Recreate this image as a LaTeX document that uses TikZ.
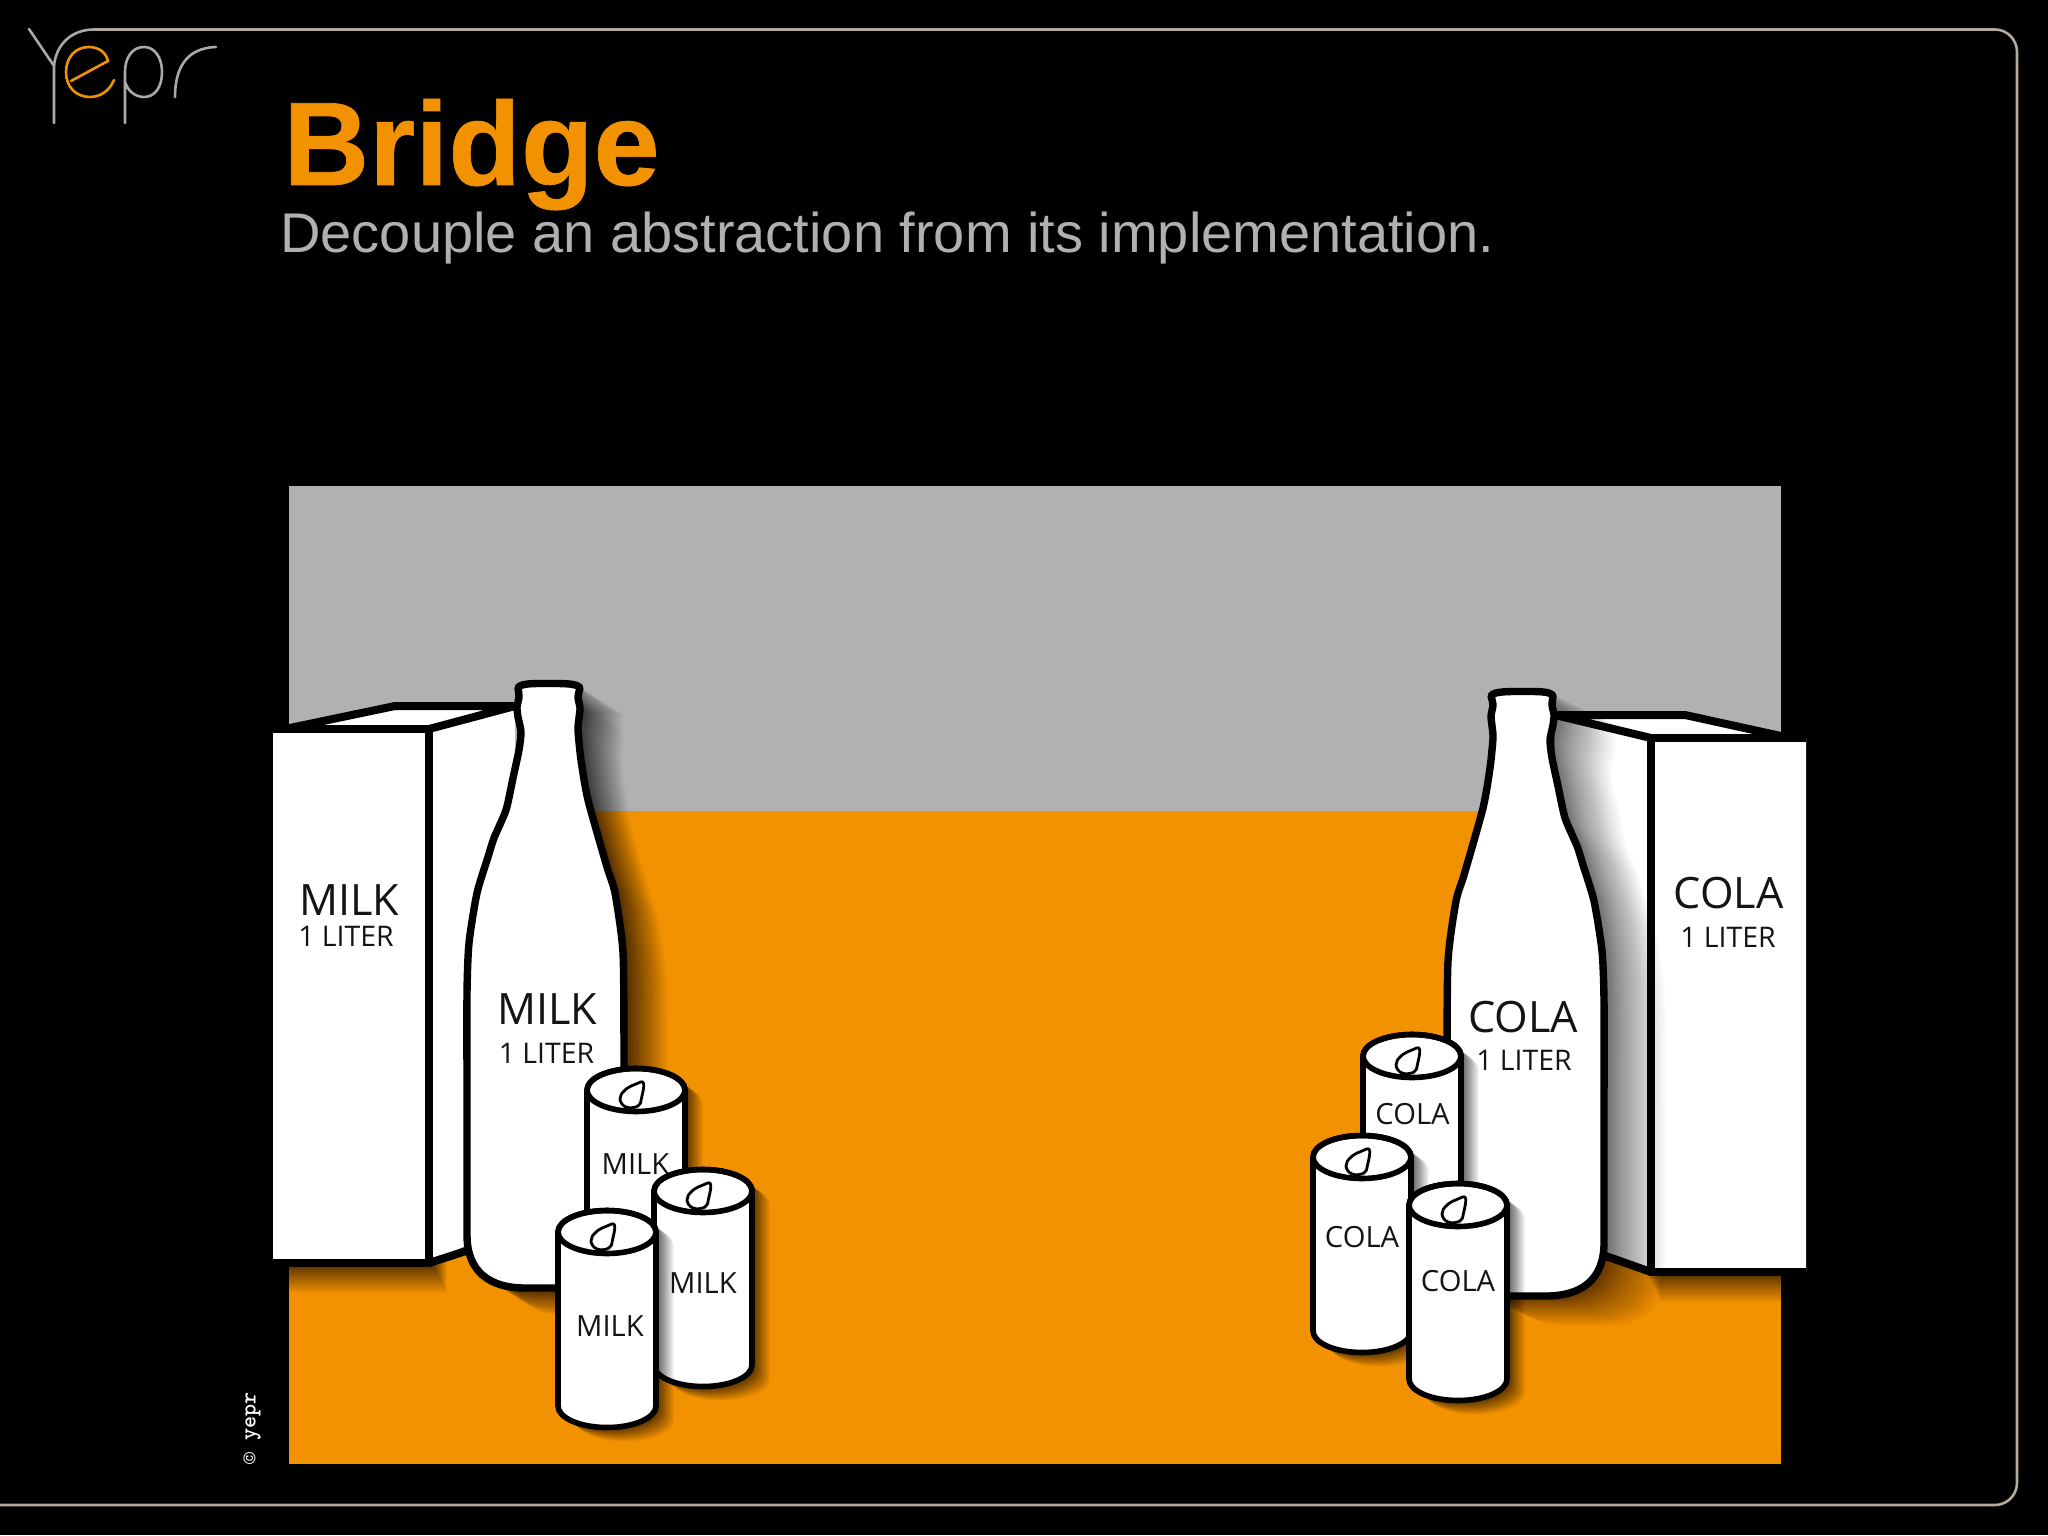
\documentclass[tikz,border=0pt]{standalone}
\usepackage{fontspec}
\setmainfont{Liberation Sans}
\newfontfamily\lbl{Open Sans}
\newfontfamily\titlefont[FakeBold=0.6]{Liberation Sans Bold}
\definecolor{brandorange}{HTML}{F39200}
\definecolor{panelgray}{HTML}{B1B1B3}
\definecolor{subgray}{HTML}{B0B0B2}
\definecolor{framecol}{HTML}{B5AA9C}
\definecolor{logogray}{HTML}{A9A9A5}
\tikzset{
  ink/.style={draw=black,line width=4pt,line join=round,line cap=round},
  bottleink/.style={draw=black,line width=3.7pt,line join=round},
  canink/.style={draw=black,line width=2.8pt,line join=round},
  thinink/.style={draw=black,line width=1.4pt,line join=round},
  big/.style={inner sep=0pt,text=black!92,font=\lbl\fontsize{21.6}{21.6}\selectfont},
  mid/.style={inner sep=0pt,text=black!92,font=\lbl\fontsize{14.2}{14.2}\selectfont},
  small/.style={inner sep=0pt,text=black!92,font=\lbl\fontsize{14.6}{14.6}\selectfont},
  logoline/.style={draw=logogray,line width=1.3pt,line cap=round},
}
% directional soft shadow: #1 path, #2 #3 total offset, #4 layers, #5 opacity per layer
\newcommand{\softshadow}[5]{%
  \foreach \k in {1,...,#4}{%
    \pgfmathsetmacro{\frac}{pow(\k/#4,1.5)}%
    \path[fill=black,fill opacity=#5,shift={(\frac*#2,\frac*#3)}] #1;
  }}
\newcommand{\milkbottle}{
  plot[smooth,tension=.4] coordinates {(518,688) (519,697) (517,707) (518,717) (521,732) (519,750) (513,778) (506,810) (494,838) (488,857) (477,893) (469,943) (467,993) (467,1100) (467,1235)}
  .. controls (467,1272) and (490,1288) .. (525,1288) -- (566,1288)
  .. controls (600,1288) and (624,1272) .. (624,1235)
  -- plot[smooth,tension=.4] coordinates {(624,1235) (624,1060) (623,953) (615,893) (607,867) (588,800) (581,760) (578,730) (579,718) (580,708) (578,697) (580,688)}
  .. controls (578,683) and (560,683.5) .. (548,683.5) .. controls (535,683.5) and (520,683) .. (518,688) -- cycle}
\newcommand{\canbody}[2]{
  (#1-49,#2) -- (#1-49,#2+174)
  .. controls (#1-49,#2+185.9) and (#1-27,#2+195.5) .. (#1,#2+195.5)
  .. controls (#1+27,#2+195.5) and (#1+49,#2+185.9) .. (#1+49,#2+174)
  -- (#1+49,#2)
  .. controls (#1+49,#2-11.9) and (#1+27,#2-21.5) .. (#1,#2-21.5)
  .. controls (#1-27,#2-21.5) and (#1-49,#2-11.9) .. (#1-49,#2) -- cycle}
\newcommand{\drawcan}[2]{%
  \softshadow{\canbody{#1}{#2}}{18}{14}{24}{.045}
  \path[fill=white,canink] \canbody{#1}{#2};
  \draw[canink] (#1,#2) ellipse[x radius=49,y radius=21.5];
  \begin{scope}[shift={(#1,#2)}]
    \draw[thinink,fill=white] plot[smooth cycle,tension=.7] coordinates {(7.5,-7) (5.5,8) (2,16) (-10,17) (-16,9) (-11,0) (0,-6)};
  \end{scope}}
\begin{document}
\begin{tikzpicture}[x=0.5pt,y=-0.5pt]
\useasboundingbox (0,0) rectangle (2048,1535);
\fill[black] (0,0) rectangle (2048,1535);
% frame
\draw[framecol,line width=1.3pt] (94,29.5) -- (1995,29.5) .. controls (2007,29.5) and (2017,39.5) .. (2017,52) -- (2017,1483) .. controls (2017,1495) and (2007,1505) .. (1995,1505) -- (0,1505);
% logo
\draw[logoline] (29,29) -- (54,66) -- (54,123);
\draw[logoline] (54,66) .. controls (56,44) and (72,29.5) .. (94,29.5);
\draw[draw=brandorange,line width=1.3pt,line cap=round] (71,81) -- (108,61) .. controls (106,52) and (98,47) .. (89,47) .. controls (75,47) and (66,58) .. (66,72) .. controls (66,87) and (76,97) .. (90,97) .. controls (101,97) and (110,90) .. (114,80);
\draw[logoline] (125,123) -- (125,72) .. controls (125,58) and (132,47) .. (144,47) .. controls (155,47) and (162,58) .. (162,72) .. controls (162,87) and (155,97) .. (144,97) .. controls (135,97) and (128,91) .. (125,82);
\draw[logoline] (175,97) .. controls (175,70) and (185,48) .. (216,47);
% title
\node[anchor=base west,inner sep=0pt,text=brandorange,font=\titlefont\fontsize{59.4}{60}\selectfont] (title) at (283,185) {Bridge};
\node[anchor=base west,inner sep=0pt,text=subgray,font=\fontsize{28}{28}\selectfont] (subtitle) at (280,253) {Decouple an abstraction from its implementation.};
% panel
\fill[panelgray] (289,486) rectangle (1781,811);
\fill[brandorange] (289,811) rectangle (1781,1464);
\node[rotate=90,anchor=west,inner sep=0pt,text=white,font=\ttfamily\bfseries\fontsize{11.5}{11.5}\selectfont] (copy) at (252,1465) {© yepr};
% milk carton
\softshadow{(273,733) rectangle (433,1265)}{14}{28}{30}{.033}
\fill[white] (273,729) -- (285,729) -- (395,706) -- (515,706) -- (515,1222) -- (429,1263) -- (273,1263) -- cycle;
\draw[ink,line cap=butt] (273,729) -- (429,729) -- (429,1263) -- (273,1263);
\draw[ink] (285,729) -- (395,706) -- (515,706) -- (429,729);
\draw[ink] (429,1263) -- (500,1240);
\node[big] (mcT) at (349,900) {MILK};
\node[mid] (mcV) at (346,936) {1 LITER};
% milk bottle
\softshadow{\milkbottle}{44}{28}{40}{.026}
\path[fill=white,bottleink] \milkbottle;
\node[big] (mbT) at (547,1009.5) {MILK};
\node[mid] (mbV) at (546.5,1053.5) {1 LITER};
% milk cans
\drawcan{636}{1090}
\node[small] (mcanA) at (635.5,1164) {MILK};
\drawcan{703}{1191}
\node[small] (mcanB) at (703,1283) {MILK};
\drawcan{607}{1232}
\node[small] (mcanC) at (610,1326) {MILK};
% cola carton
\softshadow{(1647,742) rectangle (1806,1274)}{14}{28}{30}{.033}
\fill[white] (1806,738) -- (1790,738) -- (1685,715) -- (1555,715) -- (1555,1232) -- (1651,1272) -- (1806,1272) -- cycle;
\draw[ink,line cap=butt] (1806,738) -- (1651,738) -- (1651,1272) -- (1806,1272);
\draw[ink] (1790,738) -- (1685,715) -- (1555,715) -- (1651,738);
\draw[ink] (1651,1272) -- (1600,1254);
\node[big] (ccT) at (1728.5,893.5) {COLA};
\node[mid] (ccV) at (1728,937.5) {1 LITER};
% cola bottle: the milk bottle mirrored
\begin{scope}[shift={(2071,8)},xscale=-1]
\softshadow{\milkbottle}{-62}{30}{50}{.016}
\path[fill=white,bottleink] \milkbottle;
\end{scope}
\node[big] (cbT) at (1523,1017) {COLA};
\node[mid] (cbV) at (1524,1060.5) {1 LITER};
% cola cans
\drawcan{1412}{1056}
\node[small] (ccanD) at (1412.5,1114) {COLA};
\drawcan{1362}{1157}
\node[small] (ccanE) at (1362,1237.5) {COLA};
\drawcan{1458}{1205}
\node[small] (ccanF) at (1458,1281) {COLA};
\end{tikzpicture}
\end{document}
